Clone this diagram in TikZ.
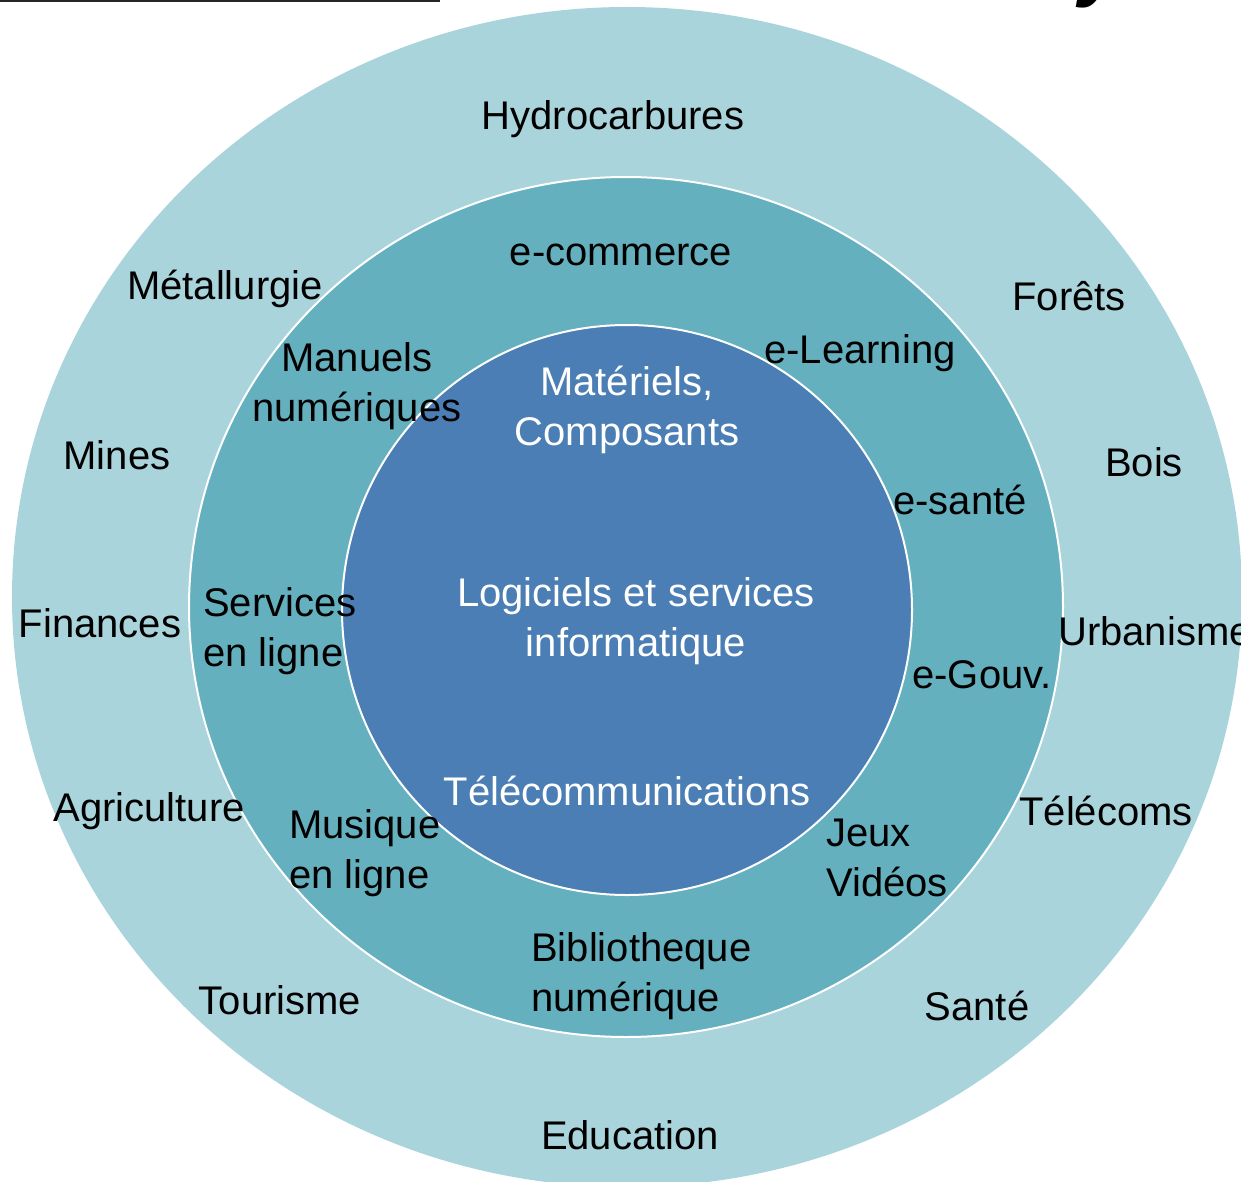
\documentclass[tikz,border=0pt]{standalone}
\usepackage{fontspec}
\setmainfont{Liberation Sans}
\usepackage{tikz}
\definecolor{ringout}{HTML}{A9D4DB}
\definecolor{ringmid}{HTML}{64B0BE}
\definecolor{ringin}{HTML}{4A7EB4}

\begin{document}
\begin{tikzpicture}[x=1pt, y=-1pt,
        lbl/.style={inner sep=0pt, align=center, yshift=-3pt, font=\fontsize{40}{50}\selectfont},
        wlbl/.style={lbl, text=white},
        llbl/.style={lbl, align=left, anchor=west}
    ]
        \useasboundingbox (0,0) rectangle (1241,1182);
        \fill[ringout] (627,597) ellipse [x radius=615pt, y radius=590pt];
        \filldraw[fill=ringmid, draw=white, line width=2pt] (626,607) ellipse [x radius=437pt, y radius=430pt];
        \filldraw[fill=ringin, draw=white, line width=2pt] (627,610) circle [radius=285pt];
        \draw[line width=2.5pt, black!85] (0,1) -- (440,1);
        \node[anchor=base, inner sep=0pt, font=\fontsize{80}{80}\selectfont\bfseries\itshape] (ttl) at (1102,-8) {y};

        % outer ring
        \node[lbl] (hydro) at (613,116) {Hydrocarbures};
        \node[lbl] (metal) at (225,286) {Métallurgie};
        \node[lbl] (forets) at (1069,293) {Forêts};
        \node[lbl] (mines) at (117,452) {Mines};
        \node[lbl] (bois) at (1144,459) {Bois};
        \node[lbl] (fin) at (100,620) {Finances};
        \node[llbl] (urba) at (1058,628) {Urbanisme};
        \node[lbl] (agri) at (149,808) {Agriculture};
        \node[lbl] (tcoms) at (1106,808) {Télécoms};
        \node[lbl] (tour) at (280,997) {Tourisme};
        \node[lbl] (sante) at (977,1003) {Santé};
        \node[lbl] (edu) at (630,1132) {Education};

        % middle ring
        \node[lbl] (ecom) at (621,252) {e-commerce};
        \node[lbl] (manuels) at (357,383) {Manuels\\numériques};
        \node[lbl] (elearn) at (860,350) {e-Learning};
        \node[lbl] (esante) at (960,497) {e-santé};
        \node[llbl] (servl) at (203,628) {Services\\en ligne};
        \node[lbl] (egouv) at (982,672) {e-Gouv.};
        \node[llbl] (musl) at (289,850) {Musique\\en ligne};
        \node[llbl] (jeux) at (826,855) {Jeux\\Vidéos};
        \node[llbl] (biblio) at (531,973) {Bibliotheque\\numérique};

        % inner circle
        \node[wlbl] (mat) at (627,407) {Matériels,\\Composants};
        \node[wlbl] (logi) at (636,618) {Logiciels et services\\informatique};
        \node[wlbl] (telecomm) at (627,788) {Télécommunications};
    \end{tikzpicture}
\end{document}
